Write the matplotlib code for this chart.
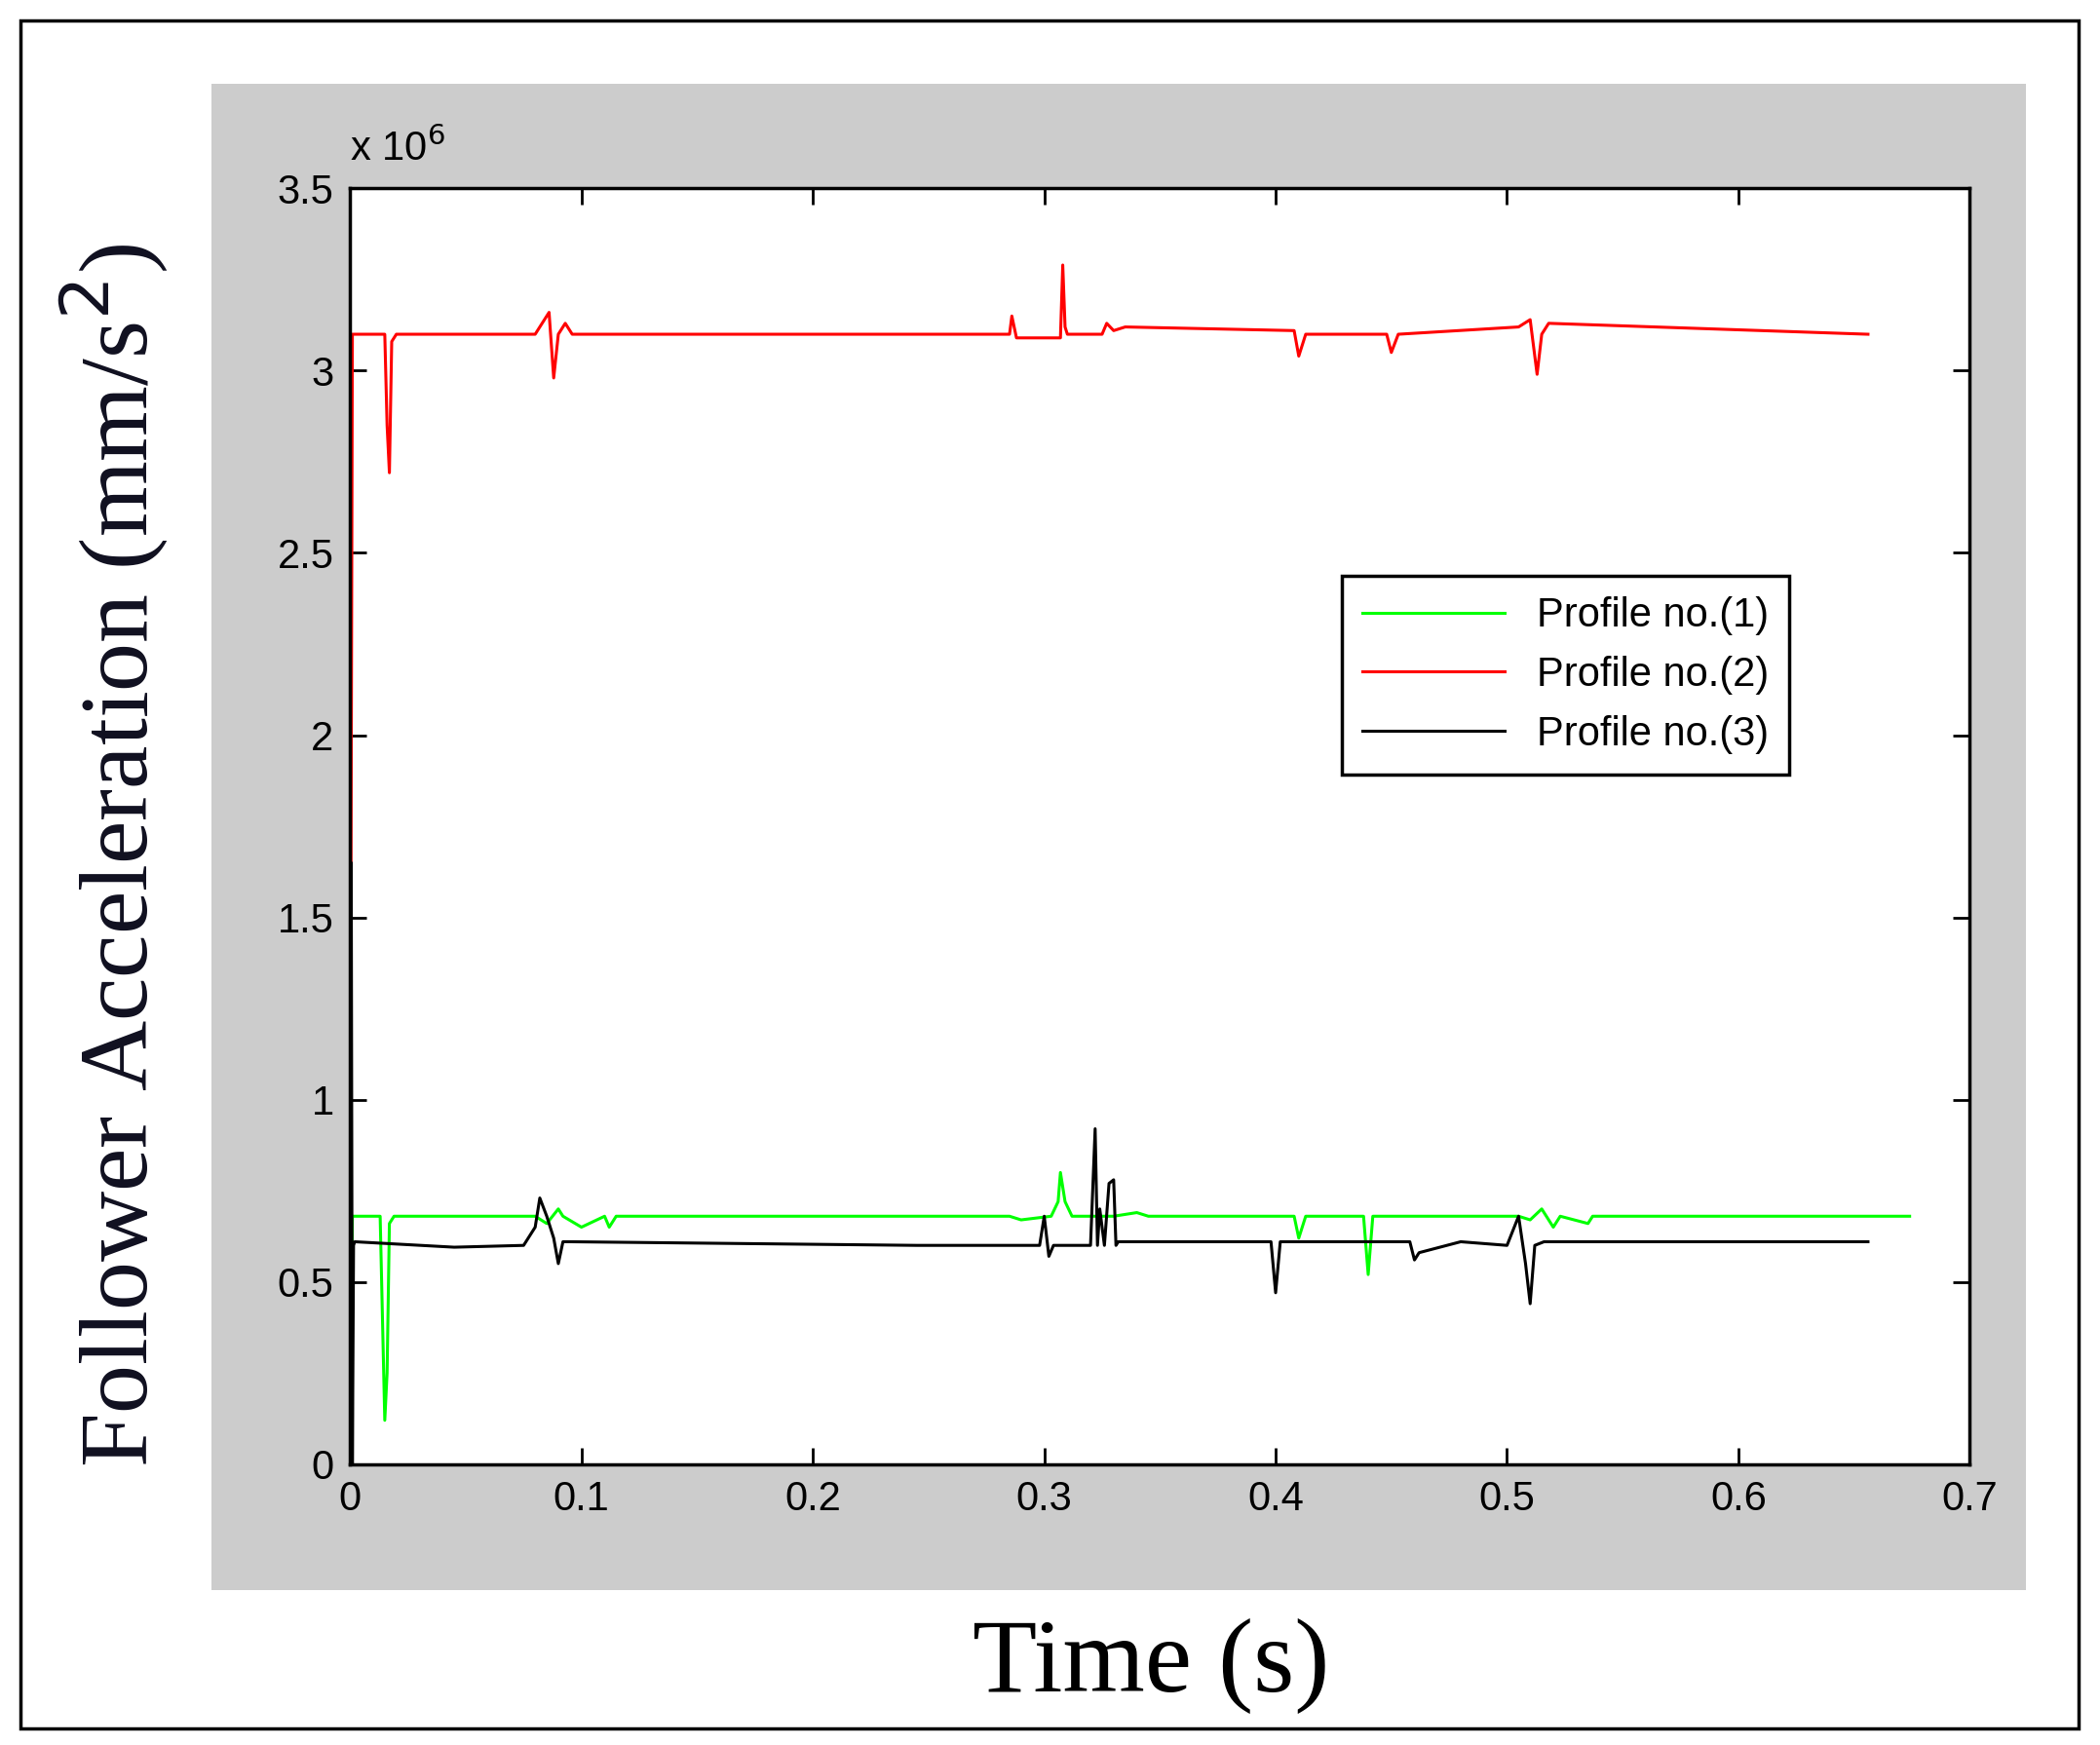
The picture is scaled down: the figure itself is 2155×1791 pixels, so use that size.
import matplotlib
matplotlib.use("Agg")
import matplotlib.pyplot as plt
from matplotlib.patches import Rectangle

# data (acceleration in units of 1e6 mm/s^2)
t1 = [0, 0.001, 0.013, 0.015, 0.016, 0.017, 0.019, 0.08, 0.085, 0.09, 0.092, 0.1, 0.11, 0.112, 0.115, 0.285, 0.29, 0.303, 0.306, 0.307, 0.309, 0.312, 0.33, 0.34, 0.345, 0.408, 0.41, 0.413, 0.438, 0.44, 0.442, 0.505, 0.51, 0.515, 0.52, 0.523, 0.535, 0.537, 0.54, 0.674]
a1 = [0.0, 0.68, 0.68, 0.12, 0.25, 0.66, 0.68, 0.68, 0.66, 0.7, 0.68, 0.65, 0.68, 0.65, 0.68, 0.68, 0.67, 0.68, 0.72, 0.8, 0.72, 0.68, 0.68, 0.69, 0.68, 0.68, 0.62, 0.68, 0.68, 0.52, 0.68, 0.68, 0.67, 0.7, 0.65, 0.68, 0.66, 0.68, 0.68, 0.68]

t2 = [0, 0.001, 0.015, 0.016, 0.017, 0.018, 0.02, 0.08, 0.084, 0.086, 0.088, 0.09, 0.093, 0.096, 0.285, 0.286, 0.288, 0.307, 0.308, 0.309, 0.31, 0.325, 0.327, 0.33, 0.335, 0.408, 0.41, 0.413, 0.448, 0.45, 0.453, 0.505, 0.51, 0.513, 0.515, 0.518, 0.656]
a2 = [0.68, 3.1, 3.1, 2.85, 2.72, 3.08, 3.1, 3.1, 3.14, 3.16, 2.98, 3.1, 3.13, 3.1, 3.1, 3.15, 3.09, 3.09, 3.29, 3.12, 3.1, 3.1, 3.13, 3.11, 3.12, 3.11, 3.04, 3.1, 3.1, 3.05, 3.1, 3.12, 3.14, 2.99, 3.1, 3.13, 3.1]

t3 = [0, 0.0005, 0.001, 0.0015, 0.002, 0.045, 0.075, 0.08, 0.082, 0.085, 0.088, 0.09, 0.092, 0.095, 0.245, 0.298, 0.3, 0.302, 0.304, 0.32, 0.322, 0.323, 0.324, 0.326, 0.328, 0.33, 0.331, 0.332, 0.335, 0.398, 0.4, 0.402, 0.458, 0.46, 0.462, 0.48, 0.5, 0.505, 0.508, 0.51, 0.512, 0.516, 0.656]
a3 = [0.0, 1.65, 0.0, 0.6, 0.61, 0.595, 0.6, 0.65, 0.73, 0.68, 0.62, 0.55, 0.61, 0.61, 0.6, 0.6, 0.68, 0.57, 0.6, 0.6, 0.92, 0.6, 0.7, 0.6, 0.77, 0.78, 0.6, 0.61, 0.61, 0.61, 0.47, 0.61, 0.61, 0.56, 0.58, 0.61, 0.6, 0.68, 0.55, 0.44, 0.6, 0.61, 0.61]

labels = ["Profile no.(1)", "Profile no.(2)", "Profile no.(3)"]
colors = ["#00ff00", "#ff0000", "#000000"]

fig = plt.figure(figsize=(21.55, 17.91), dpi=100)
r1 = Rectangle((0.0096, 0.0093), 0.9804, 0.9787, transform=fig.transFigure,
               fill=False, edgecolor="black", linewidth=2.5, zorder=-2)
r2 = Rectangle((0.1006, 0.0887), 0.8641, 0.8633, transform=fig.transFigure,
               facecolor="#cccccc", edgecolor="none", zorder=-1)
fig.add_artist(r1)
fig.add_artist(r2)

ax = fig.add_axes([0.1667, 0.161, 0.7713, 0.731])
ax.set_zorder(1)
ax.set_facecolor("white")
for t, a, c, l in zip([t1, t2, t3], [a1, a2, a3], colors, labels):
    ax.plot(t, a, color=c, linewidth=2.2, label=l)
ax.set_xlim(0, 0.7)
ax.set_ylim(0, 3.5)
ax.set_xticks([0, 0.1, 0.2, 0.3, 0.4, 0.5, 0.6, 0.7])
ax.set_xticklabels(["0", "0.1", "0.2", "0.3", "0.4", "0.5", "0.6", "0.7"])
ax.set_yticks([0, 0.5, 1, 1.5, 2, 2.5, 3, 3.5])
ax.set_yticklabels(["0", "0.5", "1", "1.5", "2", "2.5", "3", "3.5"])
ax.tick_params(direction="in", top=True, right=True, length=12, width=2,
               labelsize=30, pad=12)
for lab in ax.get_xticklabels() + ax.get_yticklabels():
    lab.set_family("Liberation Sans")
for s in ax.spines.values():
    s.set_linewidth(2.5)
ax.text(0.0, 1.015, "x 10$^{6}$", transform=ax.transAxes, fontsize=30,
        family="Liberation Sans", ha="left", va="bottom")

leg = ax.legend(loc="upper left", bbox_to_anchor=(0.6, 0.712),
                prop={"family": "Liberation Sans", "size": 30}, fancybox=False,
                edgecolor="black", framealpha=1, handlelength=3.5, borderpad=0.5)
leg.get_frame().set_linewidth(2.5)

fig.text(0.548, 0.045, "Time (s)", ha="center", va="center", fontsize=78,
         family="Liberation Serif")
fig.text(0.054, 0.51, "Follower Acceleration (mm/s$^{2}$)", ha="center", va="center",
         rotation=90, fontsize=72, family="Liberation Serif", color="#101020")

fig.savefig("out.png", dpi=100)
